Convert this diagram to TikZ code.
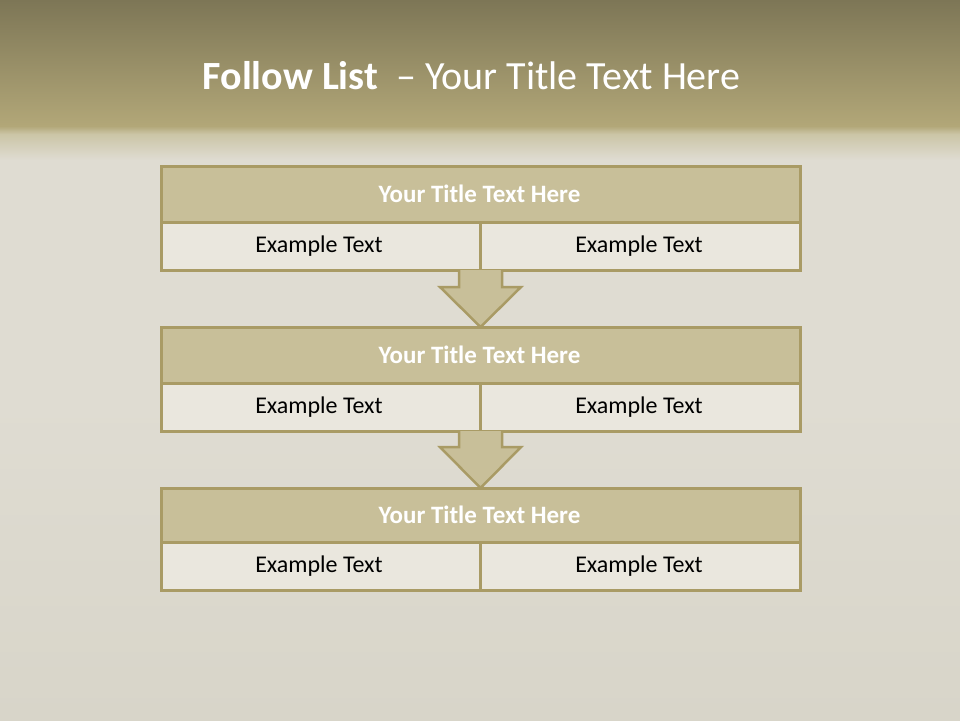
\documentclass[tikz,border=0pt]{standalone}
\usepackage{fontspec}
\setmainfont{Carlito}
\usetikzlibrary{positioning}
\definecolor{bandtop}{HTML}{7D7656}
\definecolor{bandbot}{HTML}{B2A778}
\definecolor{fadec}{HTML}{CBC5A6}
\definecolor{paper}{HTML}{DFDCD2}
\definecolor{paperlow}{HTML}{D8D5C9}
\definecolor{rim}{HTML}{A99B65}
\definecolor{headfill}{HTML}{C8BF99}
\definecolor{cellfill}{HTML}{EAE7DE}
\tikzset{
  headbox/.style={draw=rim, line width=3pt, fill=headfill},
  cellbox/.style={draw=rim, line width=3pt, fill=cellfill},
  headtext/.style={text=white, font=\bfseries\fontsize{25}{30}\selectfont},
  celltext/.style={text=black, font=\fontsize{24}{29}\selectfont},
  downarrow/.style={draw=rim, line width=2.5pt, fill=headfill, line join=miter},
}
\begin{document}
\begin{tikzpicture}[x=1pt,y=-1pt]
\useasboundingbox (0,0) rectangle (960,720);
% background
\fill[paper] (0,140) rectangle (960,720);
\shade[top color=paper, bottom color=paperlow] (0,400) rectangle (960,720);
\shade[top color=bandtop, bottom color=bandbot] (0,0) rectangle (960,126);
\shade[top color=bandbot, bottom color=fadec] (0,126) rectangle (960,134);
\shade[top color=fadec, bottom color=paper] (0,134) rectangle (960,160);
% title
\node (title) at (471.5,76) {\color{white}\fontsize{40}{48}\selectfont\textbf{Follow List}\ \ – Your Title Text Here};
% boxes
\foreach \i/\top/\mid/\bot in {1/166/222/270, 2/327/383/431, 3/488/542/590}{
  \path[headbox] (161,\top) rectangle (800,\mid);
  \node[headtext] (h\i) at (479.5,{(\top+\mid)/2}) {Your Title Text Here};
  \path[cellbox] (161,\mid) rectangle (480.5,\bot);
  \path[cellbox] (480.5,\mid) rectangle (800,\bot);
  \node[celltext] (l\i) at (319,{(\mid+\bot)/2}) {Example Text};
  \node[celltext] (r\i) at (639,{(\mid+\bot)/2}) {Example Text};
}
% arrows
\draw[downarrow] (459,270) -- (459,287) -- (440,287) -- (480.5,327) -- (521,287) -- (502,287) -- (502,270);
\draw[downarrow] (459,431) -- (459,447) -- (440,447) -- (480.5,488) -- (521,447) -- (502,447) -- (502,431);
\end{tikzpicture}
\end{document}
